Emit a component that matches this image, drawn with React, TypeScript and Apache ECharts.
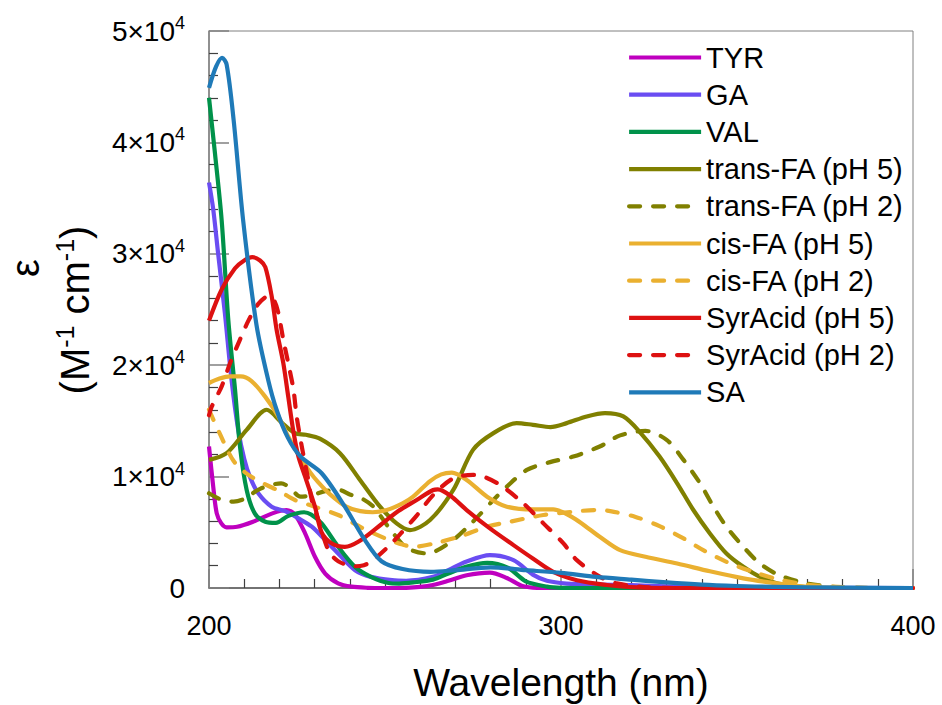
import React, { useEffect, useRef } from "react";
import * as echarts from "echarts";

// Molar absorptivity spectra: [wavelength (nm), epsilon (M^-1 cm^-1)]
const tyr = [
  [200, 12700], [201.2, 9100], [202.2, 6700], [203.5, 5800], [205, 5450], [208, 5500],
  [212.5, 5950], [218, 6700], [222, 7000], [224.4, 6600], [227.3, 4900], [230.1, 2800],
  [233, 1300], [236.7, 420], [240.5, 120], [245, 20], [250, 0], [256, 20], [260, 100],
  [263.6, 270], [268, 650], [273.2, 1150], [279.8, 1380], [284.6, 900], [289.3, 150],
  [295, 0], [400, 0],
];

const ga = [
  [200, 36400], [201.2, 34000], [202.6, 30000], [204.5, 24700], [206.4, 18700], [208.3, 14200],
  [210, 11600], [211.6, 10000], [214, 8500], [217.8, 7300], [221.6, 6900], [225.4, 6250],
  [229.2, 5500], [233, 4300], [236.7, 3100], [241.5, 1600], [246, 1000], [252, 700],
  [256, 650], [263.6, 1000], [268, 1600], [273, 2350], [279.8, 2950], [286.5, 2500],
  [292, 1200], [296, 650], [301.6, 400], [310, 300], [320, 250], [330, 150], [340, 80],
  [360, 20], [400, 0],
];

const val = [
  [200, 44000], [201.7, 39000], [203.6, 33000], [205.5, 24000], [207.4, 17800], [208.8, 12700],
  [210.7, 8800], [213, 6700], [216, 5950], [219, 5850], [222.4, 6450], [227, 6800],
  [229, 6600], [232, 5800], [236.7, 3700], [241.5, 1900], [246, 1000], [251, 450],
  [254, 400], [258, 500], [263.6, 750], [268, 1300], [273, 1900], [279, 2250], [285, 1800],
  [290, 600], [296, 120], [300, 20], [310, 0], [400, 0],
];

const transFA5 = [
  [200, 11500], [205, 12100], [210.7, 14200], [216.4, 16000], [220.5, 14900], [224.4, 13900],
  [227.5, 13750], [231.5, 13400], [237.2, 12100], [242.9, 9700], [248.6, 7300], [253.3, 5800],
  [257.1, 5200], [262.8, 6100], [269.4, 8800], [275, 12400], [280.8, 13900], [287.4, 14800],
  [292, 14650], [297, 14450], [301.6, 14800], [307.3, 15400], [312.5, 15700], [317.7, 15400],
  [322.4, 14000], [328, 11800], [333, 9400], [337.6, 7000], [342.3, 4900], [347, 3100],
  [351.8, 1900], [356.5, 1000], [361.3, 420], [368, 100], [375, 0], [400, 0],
];

const transFA2 = [
  [200, 8500], [203, 8000], [207, 7750], [210, 8000], [214.5, 8900], [220.5, 9400], [223, 9000],
  [226, 8200], [229, 8300], [233, 8700], [237, 8800], [240, 8400], [243, 8100], [246.7, 7300],
  [251.4, 5300], [256.2, 3600], [262, 3100], [268.5, 4100], [274.5, 5800], [280.8, 7900],
  [284.6, 9100], [290.3, 10600], [296.9, 11300], [303.5, 11800], [311, 12700], [316.8, 13700],
  [324, 14100], [330, 13300], [334.8, 11500], [339.5, 9400], [343.3, 7300], [347, 5500],
  [351.8, 3700], [356.5, 2200], [362, 1150], [370, 400], [380, 50], [390, 0], [400, 0],
];

const cisFA5 = [
  [200, 18400], [203, 18800], [206, 19000], [209, 19000], [212, 18600], [215.9, 17200],
  [219.7, 15400], [222.5, 13600], [225.4, 12000], [228.7, 10400], [231, 9500], [234.4, 8400],
  [239, 7300], [243, 6900], [246.5, 6800], [250.5, 7000], [255, 7600], [258, 8200],
  [262.8, 9600], [266, 10200], [269, 10350], [273.2, 9700], [279, 8200], [284.6, 7300],
  [292, 7050], [297.8, 7050], [303.5, 6300], [308, 5300], [311, 4600], [316.8, 3400],
  [324, 2800], [333, 2200], [342.3, 1500], [351.8, 870], [361.3, 420], [370, 100], [380, 0],
  [400, 0],
];

const cisFA2 = [
  [200, 16000], [203, 13900], [207, 11400], [211, 10200], [216, 9300], [220, 8700],
  [224.4, 7900], [230, 7300], [236.7, 6550], [243.5, 5400], [250.5, 4400], [255, 3900],
  [258, 3700], [264, 4000], [271.5, 4650], [279, 5500], [285.5, 5950], [295, 6550],
  [303.5, 6850], [310, 7000], [314, 6900], [321, 6400], [328, 5550], [334.8, 4450],
  [340.4, 3400], [347, 2350], [354.6, 1450], [362, 750], [370, 300], [380, 80], [390, 0],
  [400, 0],
];

const syrAcid5 = [
  [200, 24000], [203.6, 26800], [207.4, 28700], [210, 29400], [212.3, 29700], [214.5, 29400],
  [216, 28800], [217.8, 26200], [219.2, 23200], [221.1, 20200], [222.5, 17200], [223.9, 14200],
  [225.4, 11800], [227.3, 10000], [230.1, 7300], [232, 5000], [234.9, 4000], [238.6, 3700],
  [242.4, 4150], [248.1, 5500], [253.3, 6800], [259, 7900], [263.7, 8800], [265, 8850],
  [268.5, 8300], [273.2, 7000], [279.8, 5350], [286.5, 3850], [292, 2650], [297.8, 1450],
  [304.5, 700], [313, 270], [320, 80], [330, 0], [400, 0],
];

const syrAcid2 = [
  [200, 15500], [200.8, 16300], [203.6, 18100], [206, 20200], [208.8, 22300], [211.2, 24000],
  [214, 25500], [216.9, 26200], [218.5, 25800], [219.7, 24700], [221.1, 22300], [222.5, 20200],
  [224, 17800], [224.9, 15400], [226.3, 12800], [228.2, 9700], [229.2, 7900], [231.1, 6100],
  [233.9, 3400], [236.7, 2400], [241.5, 1950], [244, 2050], [246.2, 2400], [250.9, 3700],
  [254.5, 4900], [259, 6500], [263.7, 8350], [269.4, 9850], [275, 10150], [277, 10100],
  [282.7, 9250], [289.3, 7600], [295, 5800], [300.7, 4000], [304.5, 2500], [311.1, 1000],
  [315.8, 420], [325, 50], [335, 0], [400, 0],
];

const sa = [
  [200, 44900], [202, 46800], [203.7, 47600], [205, 47000], [207, 42000], [209.7, 33000],
  [213.5, 23600], [216.8, 18700], [219.2, 16000], [222.4, 13500], [226, 11800], [232, 10300],
  [238.6, 7300], [244.3, 4300], [249, 2400], [255, 1700], [263, 1450], [270, 1600],
  [280, 1850], [290, 1600], [300, 1350], [310, 1000], [320, 750], [330, 500], [340, 300],
  [350, 180], [360, 100], [380, 30], [400, 0],
];

const seriesNames = [
  "TYR", "GA", "VAL", "trans-FA (pH 5)", "trans-FA (pH 2)",
  "cis-FA (pH 5)", "cis-FA (pH 2)", "SyrAcid (pH 5)", "SyrAcid (pH 2)", "SA",
];
const seriesData = [tyr, ga, val, transFA5, transFA2, cisFA5, cisFA2, syrAcid5, syrAcid2, sa];
const seriesColors = [
  "#BF00BF", "#6A4DF2", "#00924A", "#808000", "#808000",
  "#EAB030", "#EAB030", "#DD1111", "#DD1111", "#1F7AB8",
];
const seriesDashed = [false, false, false, false, true, false, true, false, true, false];

const xTicks = { min: 200, max: 400, step: 100 };
const yTicks = { min: 0, max: 50000, step: 10000 };

const FONT = "'Liberation Sans', Arial, sans-serif";
const LINE_W = 4.2;

export default function App() {
  const ref = useRef<HTMLDivElement>(null);

  useEffect(() => {
    if (!ref.current) return;
    const chart = echarts.init(ref.current, null, { renderer: "svg" });

    const series = seriesNames.map((name, i) => ({
      name,
      type: "line",
      data: seriesData[i],
      showSymbol: false,
      symbol: "none",
      smooth: 0.3,
      lineStyle: {
        color: seriesColors[i],
        width: LINE_W,
        type: seriesDashed[i] ? [11, 13] : "solid",
        cap: seriesDashed[i] ? "round" : "butt",
        join: "round",
      },
      itemStyle: { color: seriesColors[i] },
      z: 2 + i,
    }));

    chart.setOption({
      animation: false,
      backgroundColor: "#ffffff",
      textStyle: { fontFamily: FONT },
      grid: {
        left: 209,
        top: 31,
        right: 29,
        bottom: 117,
        show: true,
        borderColor: "#808080",
        borderWidth: 1,
        containLabel: false,
      },
      legend: {
        orient: "vertical",
        left: 627,
        top: 43,
        padding: 0,
        itemWidth: 72,
        itemHeight: 14,
        itemGap: 8.2,
        selectedMode: false,
        itemStyle: { opacity: 0 },
        lineStyle: { width: LINE_W },
        textStyle: { fontSize: 29, lineHeight: 28, color: "#000", fontFamily: FONT },
        data: seriesNames,
      },
      xAxis: {
        type: "value",
        min: xTicks.min,
        max: xTicks.max,
        interval: xTicks.step,
        axisLine: { show: true, lineStyle: { color: "#595959", width: 1.5 } },
        axisTick: { show: true, inside: true, length: 19, lineStyle: { color: "#808080", width: 1.5 } },
        minorTick: { show: true, splitNumber: 10, length: 9, lineStyle: { color: "#404040", width: 1.2 } },
        splitLine: { show: false },
        axisLabel: { fontSize: 27, color: "#000", margin: 24, fontFamily: FONT },
      },
      yAxis: {
        type: "value",
        min: yTicks.min,
        max: yTicks.max,
        interval: yTicks.step,
        axisLine: { show: true, lineStyle: { color: "#808080", width: 1.5 } },
        axisTick: { show: true, inside: true, length: 20, lineStyle: { color: "#808080", width: 1.5 } },
        minorTick: { show: true, splitNumber: 5, length: 9, lineStyle: { color: "#404040", width: 1.2 } },
        splitLine: { show: false },
        axisLabel: {
          margin: 24,
          formatter: (v: number) => (v === 0 ? "{b|0}" : `{b|${v / 10000}×10}{s|4}`),
          rich: {
            b: { fontSize: 28, lineHeight: 34, color: "#000", fontFamily: FONT },
            s: { fontSize: 18, lineHeight: 20, verticalAlign: "top", color: "#000", fontFamily: FONT },
          },
        },
      },
      graphic: [
        {
          type: "text",
          x: 561,
          y: 682,
          style: {
            text: "Wavelength (nm)",
            fontSize: 39,
            fontFamily: FONT,
            fill: "#000",
            align: "center",
            verticalAlign: "middle",
          },
        },
        {
          type: "text",
          x: 25,
          y: 268,
          rotation: Math.PI / 2,
          style: {
            text: "ε",
            fontSize: 40,
            fontFamily: FONT,
            fill: "#000",
            align: "center",
            verticalAlign: "middle",
          },
        },
        {
          type: "text",
          x: 75,
          y: 310,
          rotation: Math.PI / 2,
          style: {
            text: "{b|(M}{s|-1}{b| cm}{s|-1}{b|)}",
            align: "center",
            verticalAlign: "middle",
            rich: {
              b: { fontSize: 40, lineHeight: 46, fontFamily: FONT, fill: "#000" },
              s: { fontSize: 25, lineHeight: 27, verticalAlign: "top", fontFamily: FONT, fill: "#000" },
            },
          },
        },
      ],
      series,
    });

    return () => chart.dispose();
  }, []);

  return (
    <div
      ref={ref}
      style={{ position: "fixed", left: 0, top: 0, width: 942, height: 705, background: "#fff" }}
    />
  );
}
